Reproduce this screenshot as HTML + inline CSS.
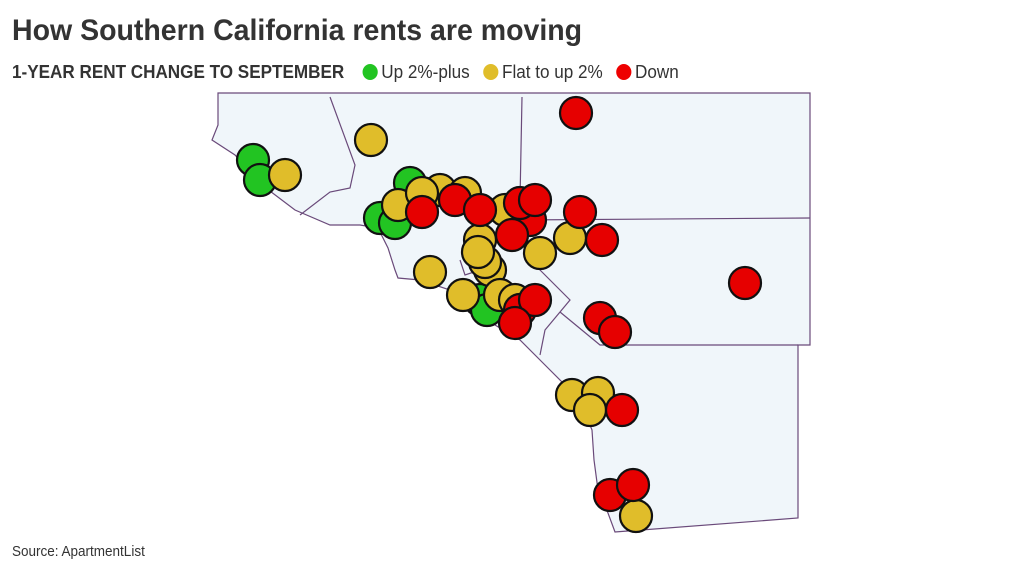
<!DOCTYPE html><html><head><style>
body{margin:0;width:1024px;height:576px;background:#fff;font-family:"Liberation Sans",sans-serif;overflow:hidden;position:relative}
.t{position:absolute;left:12px;top:14px;font-size:30px;font-weight:bold;color:#333;transform:scaleX(.95);transform-origin:left;white-space:nowrap}
.s{position:absolute;left:12px;top:62px;font-size:18px;color:#333;transform:scaleX(.95);transform-origin:left;white-space:nowrap}
.d{display:inline-block;width:16px;height:16px;border-radius:50%;vertical-align:-2px;margin:0 4px 0 14px}
.src{position:absolute;left:12px;top:543px;font-size:15px;color:#333;transform:scaleX(.9);transform-origin:left}
</style></head><body>
<div class="t">How Southern California rents are moving</div>
<div class="s"><b>1-YEAR RENT CHANGE TO SEPTEMBER</b> <span class="d" style="background:#22c422"></span>Up 2%-plus<span class="d" style="background:#e0bd2a"></span>Flat to up 2%<span class="d" style="background:#e00"></span>Down</div>
<svg width="1024" height="576" style="position:absolute;left:0;top:0">
<g fill="#f0f6fa" stroke="#6a4a7a" stroke-width="1.2">
<polygon points="218,93 218,125 212,140 235,155 262,185 295,210 330,225 360,225 378,228 388,248 395,270 398,278 420,280 450,290 470,305 495,325 520,340 545,365 565,385 582,405 592,430 594,460 598,490 605,505 615,532 798,518 798,345 810,345 810,93"/>
</g>
<g fill="none" stroke="#6a4a7a" stroke-width="1.2">
<polyline points="330,97 355,165 350,188 330,192 300,215"/>
<polyline points="522,97 520,200 515,228"/>
<polyline points="515,220 810,218"/>
<polyline points="460,260 465,275 480,270"/>
<polyline points="530,260 560,290 570,300 545,330 540,355"/>
<polyline points="560,312 600,345 798,345"/>
</g>
<g stroke="#111" stroke-width="2.2">
<g fill="#22c422"><circle cx="253" cy="160" r="16"/><circle cx="260" cy="180" r="16"/><circle cx="410" cy="183" r="16"/><circle cx="380" cy="218" r="16"/><circle cx="395" cy="223" r="16"/><circle cx="480" cy="300" r="16"/><circle cx="487" cy="310" r="16"/></g>
<g fill="#e0bd2a"><circle cx="285" cy="175" r="16"/><circle cx="371" cy="140" r="16"/><circle cx="440" cy="190" r="16"/><circle cx="465" cy="193" r="16"/><circle cx="398" cy="205" r="16"/><circle cx="422" cy="193" r="16"/><circle cx="505" cy="210" r="16"/><circle cx="480" cy="240" r="16"/><circle cx="490" cy="270" r="16"/><circle cx="485" cy="262" r="16"/><circle cx="478" cy="252" r="16"/><circle cx="430" cy="272" r="16"/><circle cx="463" cy="295" r="16"/><circle cx="500" cy="295" r="16"/><circle cx="515" cy="300" r="16"/><circle cx="540" cy="253" r="16"/><circle cx="570" cy="238" r="16"/><circle cx="572" cy="395" r="16"/><circle cx="598" cy="393" r="16"/><circle cx="590" cy="410" r="16"/><circle cx="636" cy="516" r="16"/></g>
<g fill="#e60000"><circle cx="576" cy="113" r="16"/><circle cx="422" cy="212" r="16"/><circle cx="455" cy="200" r="16"/><circle cx="480" cy="210" r="16"/><circle cx="530" cy="220" r="16"/><circle cx="520" cy="203" r="16"/><circle cx="535" cy="200" r="16"/><circle cx="512" cy="235" r="16"/><circle cx="580" cy="212" r="16"/><circle cx="602" cy="240" r="16"/><circle cx="745" cy="283" r="16"/><circle cx="520" cy="310" r="16"/><circle cx="535" cy="300" r="16"/><circle cx="515" cy="323" r="16"/><circle cx="600" cy="318" r="16"/><circle cx="615" cy="332" r="16"/><circle cx="622" cy="410" r="16"/><circle cx="610" cy="495" r="16"/><circle cx="633" cy="485" r="16"/></g>
</g>
</svg>
<div class="src">Source: ApartmentList</div>
</body></html>
